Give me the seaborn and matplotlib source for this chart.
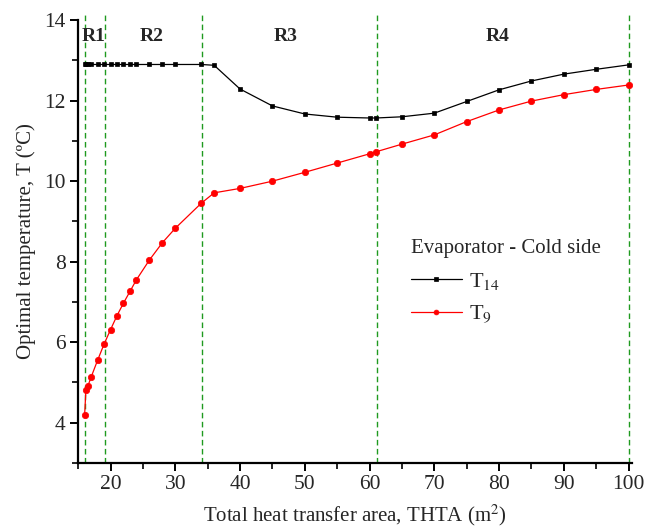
import numpy as np
import pandas as pd
import matplotlib
matplotlib.use("Agg")
import matplotlib.pyplot as plt
import seaborn as sns

# Total heat transfer area (m2) at each optimisation run
area = [16, 16.2, 16.5, 17, 18, 19, 20, 21, 22, 23, 24, 26, 28, 30, 34, 36,
        40, 45, 50, 55, 60, 61, 65, 70, 75, 80, 85, 90, 95, 100]

# Optimal evaporator temperatures, cold side (ºC)
t14 = [12.90, 12.90, 12.90, 12.90, 12.90, 12.90, 12.90, 12.90, 12.90, 12.90,
       12.90, 12.90, 12.90, 12.90, 12.90, 12.88, 12.29, 11.87, 11.67, 11.59,
       11.57, 11.57, 11.60, 11.69, 11.98, 12.27, 12.49, 12.66, 12.78, 12.89]
t9 = [4.20, 4.82, 4.91, 5.13, 5.55, 5.95, 6.31, 6.66, 6.97, 7.26, 7.55, 8.04,
      8.47, 8.83, 9.45, 9.71, 9.82, 10.00, 10.22, 10.45, 10.68, 10.73, 10.92,
      11.15, 11.48, 11.77, 11.99, 12.15, 12.28, 12.39]

# Region boundaries and labels
region_bounds = [16, 19.2, 34.2, 61.1, 100]
region_names = ["R1", "R2", "R3", "R4"]
region_label_x = [17.4, 26.4, 47.0, 79.7]

sns.set_theme(style="white")
plt.rcParams["font.family"] = ["Liberation Serif", "DejaVu Serif"]
plt.rcParams["mathtext.fontset"] = "stix"

fig = plt.figure(figsize=(6.46, 5.32), dpi=100)
ax = fig.add_axes([0.121, 0.130, 0.857, 0.832])

df = pd.DataFrame({"area": area, "T14": t14, "T9": t9})

for xb in region_bounds:
    ax.axvline(xb, ymin=0, ymax=1.012, color="#1f9a1f", ls=(0, (4, 2.5)),
               lw=1.0, clip_on=False, zorder=1)

sns.lineplot(data=df, x="area", y="T14", ax=ax, color="black", lw=0.9,
             marker="s", markersize=3.3, markeredgecolor="black",
             markeredgewidth=0.5, label=r"T$_{14}$", zorder=3)
sns.lineplot(data=df, x="area", y="T9", ax=ax, color="red", lw=0.9,
             marker="o", markersize=4.6, markeredgecolor="red",
             markeredgewidth=0.5, label=r"T$_{9}$", zorder=3)

for name, xl in zip(region_names, region_label_x):
    ax.text(xl, 13.6, name, ha="center", va="center", fontsize=14,
            fontweight="bold")

ax.set_xlim(15, 100.5)
ax.set_ylim(3, 14)
ax.set_xticks(np.arange(20, 101, 10))
ax.set_xticks(np.arange(15, 101, 5), minor=True)
ax.set_yticks(np.arange(4, 15, 2))
ax.set_yticks(np.arange(3, 14.1, 1), minor=True)

for side in ["top", "right"]:
    ax.spines[side].set_visible(False)
for side in ["left", "bottom"]:
    ax.spines[side].set_linewidth(1.6)
    ax.spines[side].set_color("black")

ax.tick_params(axis="both", which="major", direction="out", length=6,
               width=1.4, labelsize=15.5, color="black", pad=3,
               bottom=True, left=True)
ax.tick_params(axis="both", which="minor", direction="out", length=4,
               width=1.2, color="black", bottom=True, left=True)

ax.set_xlabel("Total heat transfer area, THTA (m$^2$)", fontsize=15,
              labelpad=6)
ax.set_ylabel("Optimal temperature, T (ºC)", fontsize=15, labelpad=6)

leg = ax.legend(title="Evaporator - Cold side", loc="upper left",
                bbox_to_anchor=(0.585, 0.525), frameon=False, fontsize=16,
                title_fontsize=15, handlelength=2.3, labelspacing=0.55,
                handletextpad=0.3, borderaxespad=0)
leg._legend_box.align = "left"
for h in leg.legend_handles:
    h.set_markersize(3.5)

fig.savefig("out.png", dpi=100)
